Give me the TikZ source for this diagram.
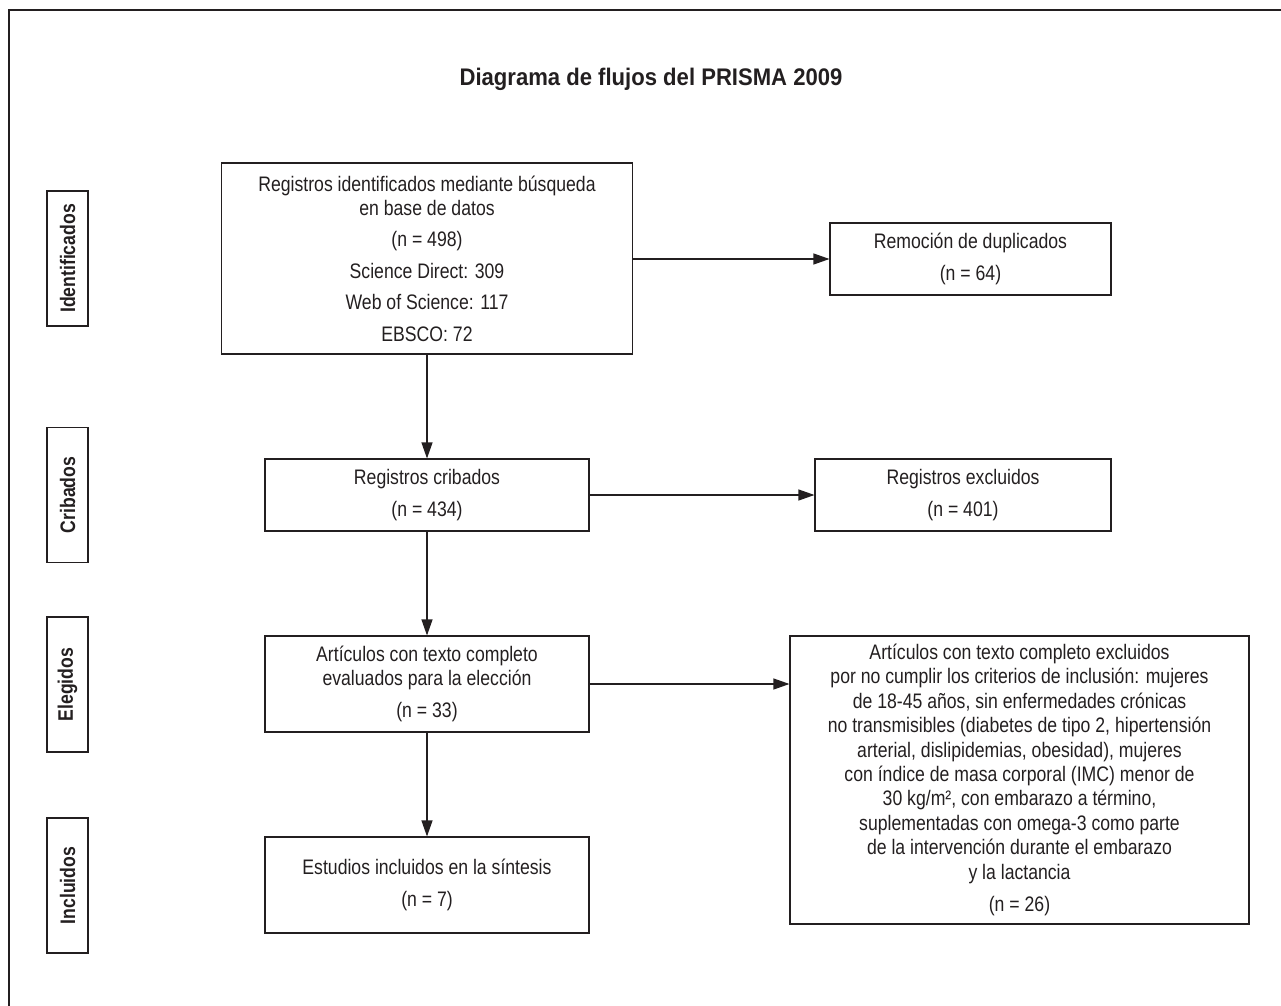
\documentclass[tikz,border=0pt]{standalone}
\usepackage{fontspec}
\setmainfont{Liberation Sans}[FakeStretch=0.84]
\newfontfamily\titlefont{Liberation Sans}[FakeStretch=0.92]
\usetikzlibrary{arrows.meta}
\definecolor{ink}{RGB}{35,31,32}

\begin{document}
\begin{tikzpicture}[
  x=0.5pt, y=-0.5pt,
  box/.style={draw=ink, line width=0.55pt, text=ink, align=center, inner sep=0pt,
    font=\fontsize{10.5}{12.2}\selectfont},
  side/.style={draw=ink, line width=0.55pt, text=ink, rotate=90, inner sep=0pt,
    minimum width=67.5pt, minimum height=20.5pt, font=\bfseries\fontsize{10.5}{12}\selectfont},
  flow/.style={draw=ink, line width=0.55pt, -{Triangle[length=8pt,width=5.5pt]}}
]
\useasboundingbox (0,0) rectangle (1281,1006);
% outer frame, cut by the page on the right and at the bottom
\draw[ink, line width=1.3pt] (9,1006) -- (9,10) -- (1281,10);

% title
\node[text=ink, font=\titlefont\bfseries\fontsize{12}{14}\selectfont] (title) at (651,79)
  {Diagrama de flujos del PRISMA 2009};

% stage labels on the left
\node[side] (sid) at (67.5,258.5) {Identificados};
\node[side] (scr) at (67.5,495) {Cribados};
\node[side] (sel) at (67.5,684.5) {Elegidos};
\node[side] (sin) at (67.5,885.5) {Incluidos};

% main column
\node[box, minimum width=205.5pt, minimum height=95.5pt] (idf) at (427,258.5)
  {Registros identificados mediante búsqueda\\ en base de datos\\[3.5pt]
   (n = 498)\\[3.5pt] Science Direct: 309\\[3.5pt] Web of Science: 117\\[3.5pt] EBSCO: 72};
\node[box, minimum width=162pt, minimum height=36pt] (cri) at (427,495)
  {Registros cribados\\[4pt] (n = 434)};
\node[box, minimum width=162pt, minimum height=48pt] (art) at (427,684)
  {Artículos con texto completo\\ evaluados para la elección\\[4pt] (n = 33)};
\node[box, minimum width=162pt, minimum height=48pt] (est) at (427,885)
  {Estudios incluidos en la síntesis\\[4pt] (n = 7)};

% exclusions on the right
\node[box, minimum width=140.5pt, minimum height=36pt] (rem) at (970.5,259)
  {Remoción de duplicados\\[4pt] (n = 64)};
\node[box, minimum width=148pt, minimum height=36pt] (exc) at (963,495)
  {Registros excluidos\\[4pt] (n = 401)};
\node[box, minimum width=229.5pt, minimum height=144pt] (axc) at (1019.5,780)
  {Artículos con texto completo excluidos\\
   por no cumplir los criterios de inclusión: mujeres\\
   de 18-45 años, sin enfermedades crónicas\\
   no transmisibles (diabetes de tipo 2, hipertensión\\
   arterial, dislipidemias, obesidad), mujeres\\
   con índice de masa corporal (IMC) menor de\\
   30 kg/m², con embarazo a término,\\
   suplementadas con omega-3 como parte\\
   de la intervención durante el embarazo\\
   y la lactancia\\[4pt]
   (n = 26)};

% down the column
\draw[flow] (idf) -- (cri);
\draw[flow] (cri) -- (art);
\draw[flow] (art) -- (est);

% out to the right
\draw[flow] (idf.east |- rem) -- (rem.west);
\draw[flow] (cri) -- (exc);
\draw[flow] (art.east) -- (art.east -| axc.west);

\end{tikzpicture}
\end{document}
